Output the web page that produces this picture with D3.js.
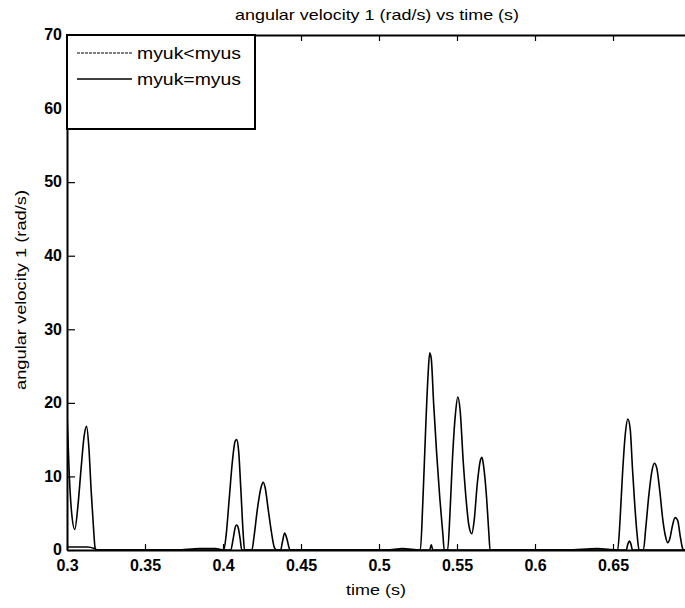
<!DOCTYPE html>
<html><head><meta charset="utf-8">
<script src="https://cdn.jsdelivr.net/npm/d3@7/dist/d3.min.js"></script>
<style>
html,body{margin:0;padding:0;background:#fff;}
svg{display:block;}
</style></head>
<body>
<svg id="chart" width="685" height="608"></svg>
<script>
// ---- data ----
const titleText = "angular velocity 1 (rad/s) vs time (s)";
const xLabel = "time (s)";
const yLabel = "angular velocity 1 (rad/s)";
const seriesNames = ["myuk<myus", "myuk=myus"];
const xTicks = [0.3, 0.35, 0.4, 0.45, 0.5, 0.55, 0.6, 0.65];
const xTickLabels = ["0.3", "0.35", "0.4", "0.45", "0.5", "0.55", "0.6", "0.65"];
const yTicks = [0, 10, 20, 30, 40, 50, 60, 70];
const yTickLabels = ["0", "10", "20", "30", "40", "50", "60", "70"];

// series 1: myuk<myus (large peaks)
const timeA = [0.300,0.3015,0.303,0.305,0.307,0.309,0.311,0.3125,0.314,0.3155,0.317,0.318,0.319,
  0.34,0.37,0.385,0.395,0.4005,
  0.402,0.404,0.406,0.4078,0.4088,0.410,0.4115,0.413,0.4138,0.4185,
  0.420,0.422,0.4245,0.4258,0.427,0.429,0.431,0.433,0.4345,0.437,
  0.438,0.4395,0.441,0.4425,0.443,
  0.46,0.48,0.49,0.505,0.515,0.5265,
  0.528,0.530,0.5315,0.5325,0.5335,0.535,0.537,0.539,0.541,0.5418,0.544,
  0.5455,0.547,0.549,0.5505,0.552,0.554,0.556,0.5575,0.5595,0.561,0.563,0.565,0.566,0.567,0.569,0.5705,0.5712,
  0.59,0.62,0.64,0.653,
  0.6545,0.656,0.658,0.6595,0.661,0.6625,0.664,0.6655,0.6667,0.6695,
  0.671,0.673,0.675,0.6765,0.678,0.680,0.682,0.6835,0.685,0.6865,0.688,0.6898,0.6915,0.693,0.6945,0.695,0.700];
const valueA = [18.5,10,5,2.8,6,11,15.5,16.8,14,8,3,0.3,0,
  0,0,0.2,0.2,0,
  2,7,12,14.8,15,13.5,8,2,0,0,
  2,5.5,8.6,9.2,8.5,5.5,2.5,0.3,0,0,
  1,2.3,1.5,0.2,0,
  0,0,0,0,0.2,0,
  6,17,24,26.8,26,20,13,7,2,0,0,
  5,12,18.5,20.8,19,12,6.5,3.5,2.2,4,9,12.2,12.6,11.5,7,2,0,
  0,0,0.2,0,
  4,10,16,17.8,16.5,11,6,2,0,0,
  3,7.5,10.8,11.8,11.2,8,4,2,1,1.6,3.2,4.4,4.0,2,0.3,0,0];

// series 2: myuk=myus (small peaks)
const timeB = [0.300,0.313,0.3175,0.319,0.405,0.4065,0.408,0.4088,0.4098,0.411,0.412,
  0.5325,0.5335,0.5345,0.6585,0.6595,0.6605,0.6615,0.6625,0.700];
const valueB = [0.4,0.4,0.2,0,0,1.5,3.2,3.4,3.0,1.5,0,
  0,0.7,0,0,0.8,1.2,0.8,0,0];

// ---- chart ----
const svg = d3.select("#chart");
const L = 67, T = 35, R = 691, B = 550;
const x = d3.scaleLinear().domain([0.3, 0.7]).range([L, R]);
const y = d3.scaleLinear().domain([0, 70]).range([B, T]);
const font = "'Liberation Sans', Arial, sans-serif";

// title
svg.append("text").attr("x", 377).attr("y", 20).attr("text-anchor", "middle")
  .attr("font-family", font).attr("font-size", 15).attr("fill", "#000")
  .attr("textLength", 284).attr("lengthAdjust", "spacingAndGlyphs").text(titleText);

// axes
const xAxis = d3.axisBottom(x).tickValues(xTicks)
  .tickFormat((d, i) => xTickLabels[i]).tickSizeInner(-6).tickSizeOuter(0).tickPadding(10);
const gx = svg.append("g").attr("transform", `translate(0,${B})`).call(xAxis);
const xTop = d3.axisTop(x).tickValues(xTicks).tickFormat("").tickSizeInner(-6).tickSizeOuter(0);
const gxt = svg.append("g").attr("transform", `translate(0,${T})`).call(xTop);
const yAxis = d3.axisLeft(y).tickValues(yTicks)
  .tickFormat((d, i) => yTickLabels[i]).tickSizeInner(-8).tickSizeOuter(0).tickPadding(5);
const gy = svg.append("g").attr("transform", `translate(${L},0)`).call(yAxis);
[gx, gxt, gy].forEach(g => {
  g.select(".domain").attr("stroke", "#000").attr("stroke-width", 2);
  g.selectAll(".tick line").attr("stroke", "#000").attr("stroke-width", 1.2);
  g.selectAll(".tick text").attr("font-family", font).attr("font-size", 16)
    .attr("font-weight", "bold").attr("fill", "#000");
});
gy.selectAll(".tick text").attr("dy", "0.3em");

// axis labels
svg.append("text").attr("x", 376).attr("y", 595).attr("text-anchor", "middle")
  .attr("font-family", font).attr("font-size", 15).attr("fill", "#000")
  .attr("textLength", 60).attr("lengthAdjust", "spacingAndGlyphs").text(xLabel);
svg.append("text").attr("transform", `translate(26,290) rotate(-90)`).attr("text-anchor", "middle")
  .attr("font-family", font).attr("font-size", 14)
  .attr("textLength", 200).attr("lengthAdjust", "spacingAndGlyphs")
  .attr("fill", "#000").text(yLabel);

// lines
svg.append("clipPath").attr("id", "clip").append("rect")
  .attr("x", L).attr("y", T).attr("width", R - L).attr("height", B - T + 2);
const line = d3.line().x(d => x(d[0])).y(d => y(d[1])).curve(d3.curveMonotoneX);
const dataA = timeA.map((t, i) => [t, valueA[i]]);
const dataB = timeB.map((t, i) => [t, valueB[i]]);
const gl = svg.append("g").attr("clip-path", "url(#clip)");
gl.append("path").datum(dataB).attr("d", line).attr("fill", "none")
  .attr("stroke", "#000").attr("stroke-width", 1.6);
gl.append("path").datum(dataA).attr("d", line).attr("fill", "none")
  .attr("stroke", "#000").attr("stroke-width", 1.6);

// legend
const lg = svg.append("g");
lg.append("rect").attr("x", L).attr("y", T).attr("width", 188).attr("height", 94)
  .attr("fill", "#fff").attr("stroke", "#000").attr("stroke-width", 2);
const entryY = [53, 79];
seriesNames.forEach((name, i) => {
  lg.append("line").attr("x1", 77).attr("x2", 132).attr("y1", entryY[i]).attr("y2", entryY[i])
    .attr("stroke", "#000").attr("stroke-width", i === 0 ? 1 : 1.4)
    .attr("stroke-dasharray", i === 0 ? "3,1" : null);
  lg.append("text").attr("x", 137).attr("y", entryY[i]).attr("dy", "0.35em")
    .attr("font-family", font).attr("font-size", 16).attr("fill", "#000")
    .attr("textLength", 104).attr("lengthAdjust", "spacingAndGlyphs").text(name);
});
</script>
</body></html>
